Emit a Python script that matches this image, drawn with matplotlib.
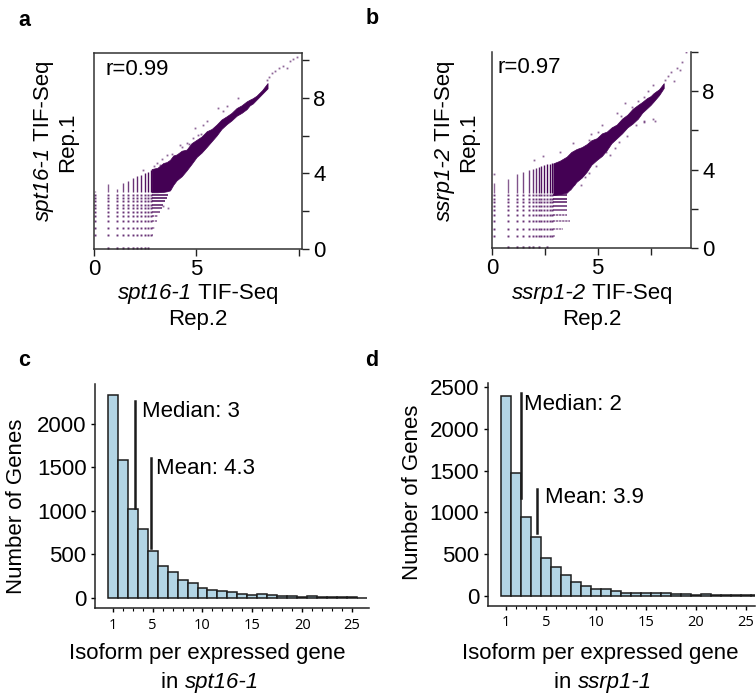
import matplotlib
matplotlib.use("Agg")
import matplotlib.pyplot as plt

plt.rcParams["font.family"] = ["Liberation Sans", "DejaVu Sans"]

W, H = 756, 696
PURPLE = "#440154"
BAR_BLUE = "#b3d5e5"
TEXT_SIZE = 16

# panel a, values
a_columns = [0.05, 0.7, 1.1, 1.4, 1.67, 1.92, 2.11, 2.31, 2.49, 2.65, 2.76]
a_column_tops = [3.05, 3.45, 3.2, 3.5, 3.6, 3.75, 3.85, 3.9, 4.0, 4.1, 4.2]
a_rows = [0.72, 1.11, 1.46, 1.73, 1.94, 2.17, 2.35, 2.52, 2.7, 2.87]
a_row_ends = [2.89, 2.97, 3.06, 3.14, 3.22, 3.3, 3.38, 3.46, 3.54, 3.63]
a_blob_x = [2.81, 3.1, 3.38, 3.55, 3.71, 3.87, 4.03, 4.28, 4.52, 4.76, 5.01, 5.25, 5.5, 5.74,
            5.98, 6.22, 6.47, 6.71, 6.96, 7.2, 7.45, 7.6, 7.75, 7.93, 8.2, 8.47]
a_blob_top = [4.23, 4.3, 4.55, 4.6, 4.72, 4.95, 5.0, 5.2, 5.26, 5.6, 5.78, 5.95, 6.23, 6.35,
              6.58, 6.85, 7.02, 7.2, 7.46, 7.6, 7.81, 7.9, 7.98, 8.11, 8.4, 8.78]
a_blob_low = [3.0, 3.0, 3.02, 3.05, 3.1, 3.4, 3.63, 3.85, 4.16, 4.5, 4.87, 5.1, 5.4, 5.7,
              6.0, 6.35, 6.6, 6.8, 7.05, 7.2, 7.4, 7.6, 7.7, 7.9, 8.2, 8.5]
a_sparse_x = [9.89, 9.56, 9.24, 8.83, 8.67, 8.42, 7.04, 6.47, 6.07, 5.5, 4.93, 5.09,
              4.52, 3.54, 3.06, 2.41, 3.63, 3.38, 6.3, 4.2, 3.3, 5.3, 9.7, 9.4, 9.05, 8.55,
              4.65, 4.85, 5.2, 4.3, 3.8, 3.2, 2.95]
a_sparse_y = [10.16, 9.93, 9.7, 9.4, 9.31, 8.96, 7.99, 7.55, 7.46, 6.75, 6.4, 6.05,
              5.61, 4.99, 4.55, 4.2, 2.17, 2.26, 7.3, 5.5, 4.75, 6.55, 10.05, 9.55, 9.6, 9.1,
              5.55, 5.85, 6.1, 5.4, 5.05, 4.45, 4.4]
a_floor_x = [0.7, 1.1, 1.4, 1.67, 1.92, 2.11, 2.31, 2.49, 2.65]

# panel b
b_columns = [0.1, 0.76, 1.19, 1.47, 1.74, 1.95, 2.08, 2.2, 2.33, 2.45, 2.6, 2.72, 2.85]
b_column_tops = [3.3, 3.5, 3.8, 3.9, 3.98, 4.05, 4.1, 4.15, 4.2, 4.25, 4.3, 4.3, 4.35]
b_rows = [0.61, 0.99, 1.37, 1.67, 1.93, 2.13, 2.35, 2.52, 2.7]
b_row_ends = [2.97, 3.37, 3.69, 3.53, 3.53, 3.53, 3.53, 3.53, 3.53]
b_blob_x = [2.9, 3.2, 3.53, 3.75, 4.0, 4.25, 4.48, 4.7, 4.95, 5.2, 5.43, 5.65, 5.9, 6.15,
            6.4, 6.65, 6.9, 7.1, 7.33, 7.5, 7.64, 7.9, 8.12]
b_blob_top = [4.32, 4.45, 4.66, 4.9, 5.05, 5.15, 5.3, 5.5, 5.6, 5.85, 5.94, 6.15, 6.3, 6.6,
              6.8, 7.1, 7.3, 7.45, 7.65, 7.75, 7.9, 8.1, 8.41]
b_blob_low = [2.7, 2.75, 2.82, 3.05, 3.38, 3.6, 3.89, 4.25, 4.49, 4.7, 5.0, 5.35, 5.6, 5.85,
              6.15, 6.35, 6.6, 6.9, 7.13, 7.3, 7.47, 7.8, 8.16]
b_sparse_x = [9.15, 9.0, 8.9, 8.75, 8.45, 8.3, 7.6, 7.2, 6.9, 6.6, 6.1, 5.7, 5.0, 4.6,
              3.85, 3.2, 2.4, 2.0, 7.6, 7.2, 6.8, 6.0, 5.4, 4.9, 4.6, 4.4, 3.9, 0.1,
              8.6, 8.2, 7.8, 7.4, 6.3, 5.9, 5.2, 4.7, 5.8, 5.6, 6.4, 7.17, 7.72, 4.2, 3.7]
b_sparse_y = [10.0, 9.5, 9.1, 9.2, 9.0, 8.8, 8.3, 7.7, 7.5, 7.2, 6.75, 6.1, 5.9, 5.5,
              5.35, 4.9, 4.7, 4.5, 6.6, 6.5, 6.3, 5.4, 4.9, 4.2, 3.85, 3.6, 3.25, 3.8,
              8.5, 8.55, 7.95, 8.0, 7.4, 6.9, 6.3, 5.8, 5.1, 4.75, 5.7, 6.45, 6.5, 3.2, 3.0]
b_floor_x = [0.76, 1.19, 1.47, 1.74, 1.95, 2.2, 2.6]

# histograms
isoforms = list(range(1, 27))
c_genes = [2340, 1590, 1020, 790, 540, 365, 300, 200, 165, 115, 85, 75, 60,
           40, 35, 40, 30, 25, 15, 8, 15, 5, 5, 5, 5, 0]
d_genes = [2400, 1475, 950, 700, 450, 340, 245, 165, 120, 85, 85, 55, 30,
           35, 30, 28, 28, 18, 18, 10, 15, 10, 8, 8, 5, 3]
hist_xticks = [1, 5, 10, 15, 20, 25]
c_yticks = [0, 500, 1000, 1500, 2000]
d_yticks = [0, 500, 1000, 1500, 2000, 2500]


def axes_px(fig, left, top, right, bottom):
    return fig.add_axes([left / W, 1 - bottom / H, (right - left) / W, (bottom - top) / H])


def text_px(fig, x, y, s, **kwargs):
    kwargs.setdefault("ha", "center")
    kwargs.setdefault("va", "center")
    return fig.text(x / W, 1 - y / H, s, **kwargs)


def mixed_text(fig, x, y, parts, rotation=0):
    """Centre a row of (string, style) pieces on x, y in pixels."""
    renderer = fig.canvas.get_renderer()
    items = []
    for s, style in parts:
        t = text_px(fig, 0, 0, s, fontsize=TEXT_SIZE, style=style, ha="left", va="baseline")
        items.append((t, t.get_window_extent(renderer).width))
    total = sum(w for t, w in items)
    pos = -total / 2
    for t, w in items:
        if rotation == 90:
            t.set_rotation(90)
            t.set_rotation_mode("anchor")
            t.set_position(((x + 6) / W, 1 - (y - pos) / H))
        else:
            t.set_position(((x + pos) / W, 1 - (y + 6) / H))
        pos += w


def draw_scatter(ax, columns, tops, rows, ends, blob_x, blob_top, blob_low, sparse_x, sparse_y, floor_x):
    for i, (x, top) in enumerate(zip(columns, tops)):
        ax.vlines(x, rows[-1] + 0.12, top, color=PURPLE, lw=1.0, alpha=min(1, 0.6 + 0.04 * i))
        for y in rows:
            ax.plot([x], [y], "s", ms=1.4, mew=0, color=PURPLE, alpha=0.8)
    for i, (y, end) in enumerate(zip(rows, ends)):
        alpha = min(1, 0.5 + 0.07 * i)
        ax.hlines(y, blob_x[0], end, color=PURPLE, lw=1.1, alpha=alpha, linestyles=(0, (1.5, 0.5)) if i < 4 else "-")
    ax.fill_between(blob_x, blob_low, blob_top, color=PURPLE, lw=0.5)
    ax.plot(sparse_x, sparse_y, "s", ms=1.3, mew=0, color=PURPLE, alpha=0.6)
    ax.plot(floor_x, [0.03] * len(floor_x), "s", ms=1.4, mew=0, color=PURPLE, clip_on=False)


def style_scatter(ax, xlim, xticks, xticklabels, top_spine):
    ax.set_xlim(xlim)
    ax.set_ylim(0, 10.37 if top_spine else 10)
    ax.yaxis.tick_right()
    ax.set_yticks([0, 2, 4, 6, 8, 10])
    ax.set_yticklabels(["0", "", "4", "", "8", ""])
    ax.set_xticks(xticks)
    ax.set_xticklabels(xticklabels)
    ax.tick_params(axis="y", labelsize=TEXT_SIZE, length=5, width=1, pad=3, color="#222222")
    ax.tick_params(axis="x", labelsize=TEXT_SIZE, length=5, width=1, pad=2, color="#222222")
    ax.spines["top"].set_visible(top_spine)
    for spine in ax.spines.values():
        spine.set_linewidth(1.1)
        spine.set_color("#333333")


def draw_hist(ax, genes, xlim, ylim, yticks):
    ax.bar(isoforms, genes, width=1.0, color=BAR_BLUE, edgecolor="#1c1c1c", linewidth=1.1)
    ax.set_xlim(xlim)
    ax.set_ylim(ylim)
    ax.set_yticks(yticks)
    ax.set_xticks(hist_xticks)
    ax.set_xticks(isoforms[:-1], minor=True)
    ax.tick_params(axis="y", labelsize=TEXT_SIZE, length=3, width=1, pad=3)
    ax.tick_params(axis="x", labelsize=10.5, length=3, width=1, pad=4, which="major")
    ax.tick_params(axis="x", length=2.5, width=0.8, which="minor")
    for label in ax.get_xticklabels():
        label.set_family("Open Sans")
    ax.spines["top"].set_visible(False)
    ax.spines["right"].set_visible(False)
    for side in ["left", "bottom"]:
        ax.spines[side].set_linewidth(1.1)
        ax.spines[side].set_color("#222222")


fig = plt.figure(figsize=(W / 100, H / 100), dpi=100)
fig.canvas.draw()

# a
ax_a = axes_px(fig, 94, 53, 302, 249)
draw_scatter(ax_a, a_columns, a_column_tops, a_rows, a_row_ends, a_blob_x, a_blob_top, a_blob_low,
             a_sparse_x, a_sparse_y, a_floor_x)
style_scatter(ax_a, (0, 10.15), [0, 5, 10], ["0", "5", ""], True)
ax_a.text(0.055, 0.915, "r=0.99", transform=ax_a.transAxes, fontsize=TEXT_SIZE, va="center")

# b
ax_b = axes_px(fig, 492, 52, 691, 248)
draw_scatter(ax_b, b_columns, b_column_tops, b_rows, b_row_ends, b_blob_x, b_blob_top, b_blob_low,
             b_sparse_x, b_sparse_y, b_floor_x)
style_scatter(ax_b, (0, 9.41), [0, 2.5, 5, 7.5], ["0", "", "5", ""], False)
ax_b.text(0.03, 0.92, "r=0.97", transform=ax_b.transAxes, fontsize=TEXT_SIZE, va="center")

# c
ax_c = axes_px(fig, 95, 384, 369, 608)
draw_hist(ax_c, c_genes, (-0.78, 26.7), (-119, 2462), c_yticks)
ax_c.plot([3.27, 3.27], [1030, 2270], color="#1c1c1c", lw=1.8)
ax_c.plot([4.87, 4.87], [575, 1605], color="#1c1c1c", lw=1.8)
ax_c.text(3.95, 2140, "Median: 3", fontsize=TEXT_SIZE, va="center")
ax_c.text(5.35, 1490, "Mean: 4.3", fontsize=TEXT_SIZE, va="center")

# d
ax_d = axes_px(fig, 487.7, 382.7, 755, 605.7)
draw_hist(ax_d, d_genes, (-0.83, 25.9), (-120, 2557), d_yticks)
ax_d.plot([2.53, 2.53], [1170, 2430], color="#1c1c1c", lw=1.8)
ax_d.plot([4.13, 4.13], [748, 1276], color="#1c1c1c", lw=1.8)
ax_d.text(2.85, 2300, "Median: 2", fontsize=TEXT_SIZE, va="center")
ax_d.text(4.9, 1180, "Mean: 3.9", fontsize=TEXT_SIZE, va="center")

# labels
fig.canvas.draw()
mixed_text(fig, 198, 293, [("spt16-1", "italic"), ("\u00a0TIF-Seq", "normal")])
text_px(fig, 198, 320, "Rep.2", fontsize=TEXT_SIZE)
mixed_text(fig, 43, 141, [("spt16-1", "italic"), ("\u00a0TIF-Seq", "normal")], rotation=90)
text_px(fig, 68, 142, "Rep.1", fontsize=TEXT_SIZE, rotation=90)

mixed_text(fig, 592, 293, [("ssrp1-2", "italic"), ("\u00a0TIF-Seq", "normal")])
text_px(fig, 592, 320, "Rep.2", fontsize=TEXT_SIZE)
mixed_text(fig, 444, 141, [("ssrp1-2", "italic"), ("\u00a0TIF-Seq", "normal")], rotation=90)
text_px(fig, 469, 142, "Rep.1", fontsize=TEXT_SIZE, rotation=90)

text_px(fig, 17, 506, "Number of Genes", fontsize=TEXT_SIZE, rotation=90)
text_px(fig, 207, 654, "Isoform per expressed gene", fontsize=TEXT_SIZE)
mixed_text(fig, 210, 682, [("in\u00a0", "normal"), ("spt16-1", "italic")])

text_px(fig, 412, 492, "Number of Genes", fontsize=TEXT_SIZE, rotation=90)
text_px(fig, 600, 654, "Isoform per expressed gene", fontsize=TEXT_SIZE)
mixed_text(fig, 603, 682, [("in\u00a0", "normal"), ("ssrp1-1", "italic")])

text_px(fig, 24, 20, "a", fontsize=15.5, fontweight="bold")
text_px(fig, 372, 19, "b", fontsize=15.5, fontweight="bold")
text_px(fig, 24, 361, "c", fontsize=15.5, fontweight="bold")
text_px(fig, 372, 361, "d", fontsize=15.5, fontweight="bold")

fig.savefig("out.png", dpi=100)
plt.close(fig)
